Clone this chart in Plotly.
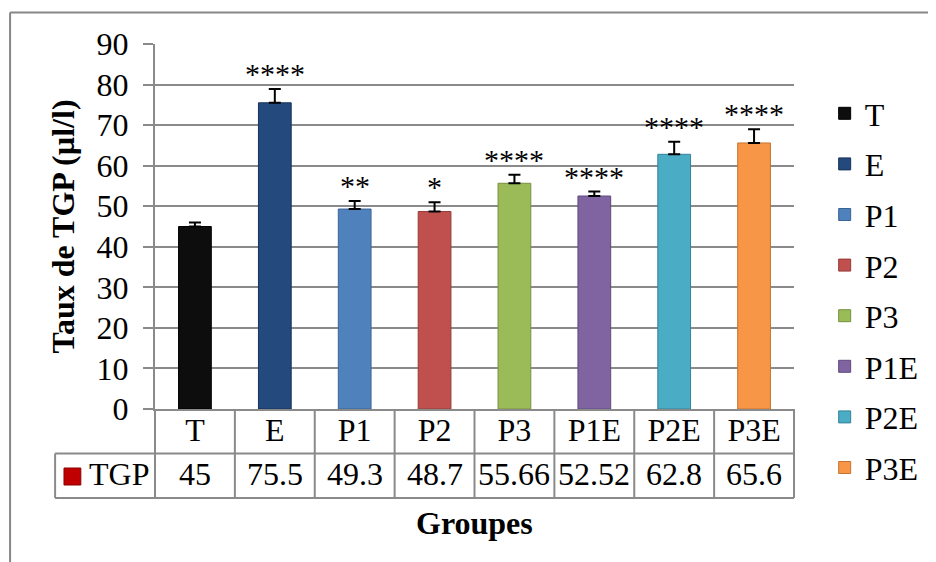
import plotly.graph_objects as go

# ---- data ----
groups = ["T", "E", "P1", "P2", "P3", "P1E", "P2E", "P3E"]
tgp_values = [45, 75.5, 49.3, 48.7, 55.66, 52.52, 62.8, 65.6]
tgp_errors = [1.0, 3.4, 2.0, 2.3, 2.1, 1.1, 3.1, 3.4]
signif = ["", "****", "**", "*", "****", "****", "****", "****"]
value_labels = ["45", "75.5", "49.3", "48.7", "55.66", "52.52", "62.8", "65.6"]
y_ticks = [0, 10, 20, 30, 40, 50, 60, 70, 80, 90]

# ---- styles ----
bar_colors = ["#0d0d0d", "#23497d", "#4f81bd", "#c0504d", "#9bbb59", "#8064a2", "#4bacc6", "#f79646"]
bar_lines = ["#000000", "#17335a", "#3a6396", "#943c3a", "#76913f", "#5f4a7c", "#348399", "#c7722e"]
FONT = "Liberation Serif"
GRID = "#8a8a8a"

OFF = 8  # page body margin of the html page
W, H = 936 - OFF, 562 - OFF
L, R, T, B = 155 - OFF, 936 - 801, 44 - OFF, 562 - 409
PW, PH = W - L - R, H - T - B


def px_x(px):
    # px given in screenshot coordinates
    return (px - OFF - L) / PW


def px_y(py):
    return (H - B - (py - OFF)) / PH


fig = go.Figure()
for i, g in enumerate(groups):
    fig.add_trace(go.Bar(
        x=[g], y=[tgp_values[i]], name=g,
        legendgroup=g,
        width=0.41,
        marker=dict(color=bar_colors[i], line=dict(color=bar_lines[i], width=1)),
        error_y=dict(type="data", symmetric=False, array=[tgp_errors[i]], arrayminus=[0],
                     color="black", thickness=2, width=6),
        hoverinfo="x+y",
    ))

annotations = []
# significance stars
for i, g in enumerate(groups):
    if signif[i]:
        annotations.append(dict(
            x=g, y=tgp_values[i] + tgp_errors[i], xref="x", yref="y",
            text=signif[i], showarrow=False, yanchor="bottom", yshift=-3,
            font=dict(family=FONT, size=30, color="black")))
# data table value row
row_top, row_mid, row_bot = 409, 453.5, 498
for i, g in enumerate(groups):
    annotations.append(dict(
        x=g, y=px_y((row_mid + row_bot) / 2 - 2), xref="x", yref="paper",
        text=value_labels[i], showarrow=False, yanchor="middle", xanchor="center",
        font=dict(family=FONT, size=32, color="black")))
annotations.append(dict(
    x=px_x(86), y=px_y((row_mid + row_bot) / 2 - 2), xref="paper", yref="paper",
    text="TGP", showarrow=False, yanchor="middle", xanchor="left",
    font=dict(family=FONT, size=32, color="black")))
# axis titles
annotations.append(dict(
    x=px_x(478), y=px_y(523), xref="paper", yref="paper",
    text="<b>Groupes</b>", showarrow=False, yanchor="middle", xanchor="center",
    font=dict(family=FONT, size=32, color="black")))
annotations.append(dict(
    x=px_x(61), y=0.5, xref="paper", yref="paper", textangle=-90,
    text="<b>Taux de TGP (µl/l)</b>", showarrow=False, yanchor="middle", xanchor="center",
    font=dict(family=FONT, size=32, color="black")))

shapes = []
n = len(groups)
# table vertical lines
for k in range(n + 1):
    shapes.append(dict(type="line", xref="paper", yref="paper",
                       x0=k / n, x1=k / n, y0=px_y(row_top), y1=px_y(row_bot),
                       line=dict(color=GRID, width=2)))
# table horizontal lines
for yy in (row_mid, row_bot):
    shapes.append(dict(type="line", xref="paper", yref="paper",
                       x0=px_x(54), x1=1, y0=px_y(yy), y1=px_y(yy),
                       line=dict(color=GRID, width=2)))
shapes.append(dict(type="line", xref="paper", yref="paper",
                   x0=px_x(54), x1=px_x(54), y0=px_y(row_mid), y1=px_y(row_bot),
                   line=dict(color=GRID, width=2)))
# red legend key in table
shapes.append(dict(type="rect", xref="paper", yref="paper",
                   x0=px_x(63), x1=px_x(80), y0=px_y(485), y1=px_y(468),
                   fillcolor="#c00000", line=dict(color="#8b0000", width=1)))
# outer chart frame (left and top)
shapes.append(dict(type="line", xref="paper", yref="paper",
                   x0=px_x(8.5), x1=px_x(8.5), y0=px_y(12.5), y1=px_y(570),
                   line=dict(color="#868686", width=2)))
shapes.append(dict(type="line", xref="paper", yref="paper",
                   x0=px_x(8.5), x1=px_x(945), y0=px_y(12.5), y1=px_y(12.5),
                   line=dict(color="#868686", width=2)))

fig.update_layout(
    width=W, height=H,
    margin=dict(l=L, r=R, t=T, b=B, pad=0),
    paper_bgcolor="white", plot_bgcolor="white",
    barmode="overlay",
    font=dict(family=FONT, size=32, color="black"),
    showlegend=True,
    legend=dict(x=px_x(832), xanchor="left", y=px_y(86), yanchor="top",
                maxheight=540,
                font=dict(family=FONT, size=32, color="black"),
                traceorder="grouped", tracegroupgap=6, bgcolor="rgba(0,0,0,0)"),
    annotations=annotations,
    shapes=shapes,
)
fig.update_xaxes(
    categoryorder="array", categoryarray=groups, range=[-0.5, n - 0.5],
    showline=True, linecolor=GRID, linewidth=2, showgrid=False,
    ticks="", ticklabelstandoff=-8,
    tickfont=dict(family=FONT, size=32, color="black"),
    zeroline=False,
)
fig.update_yaxes(
    range=[0, 90], tickvals=y_ticks,
    showline=True, linecolor=GRID, linewidth=2,
    showgrid=True, gridcolor=GRID, gridwidth=1.5,
    ticks="outside", ticklen=10, tickcolor=GRID, tickwidth=1.5,
    ticklabelstandoff=8,
    tickfont=dict(family=FONT, size=32, color="black"),
    zeroline=False,
)

fig.write_html("out.html")
